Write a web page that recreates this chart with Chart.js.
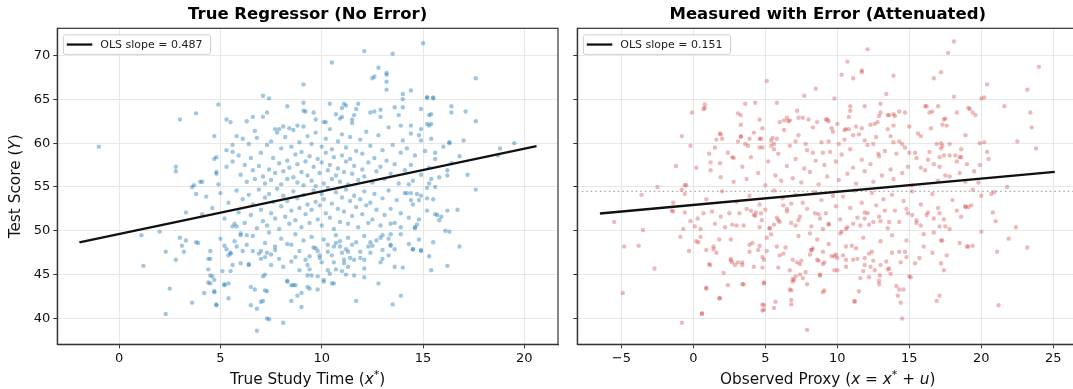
<!DOCTYPE html>
<html>
<head>
<meta charset="utf-8">
<script src="https://cdn.jsdelivr.net/npm/chart.js@4.4.0/dist/chart.umd.min.js"></script>
<style>
  html, body { margin:0; padding:0; background:#fff; overflow:hidden; width:1073px; height:389px; }
  canvas { position:absolute; top:0; }
  #trueChart { left:0; }
  #proxyChart { left:566px; }
</style>
</head>
<body>
<canvas id="trueChart" width="566" height="389"></canvas>
<canvas id="proxyChart" width="524" height="389"></canvas>
<script>
// ---- data ----
const scoreRange = [37.05, 73.1];
const scoreTicks = [40, 45, 50, 55, 60, 65, 70];
const trueXRange = [-3.05, 21.66];
const trueXTicks = [0, 5, 10, 15, 20];
const proxyXRange = [-8.06, 26.73];
const proxyXTicks = [-5, 0, 5, 10, 15, 20, 25];

const trueFit = [[-1.96, 48.67], [20.6, 59.65]];
const proxyFit = [[-6.49, 51.97], [25.1, 56.72]];
const meanScore = 54.5;
const trueSlope = '0.487';
const proxySlope = '0.151';

// true study time vs score: sparse outer points
const trueOuter = [
  [-1.0,59.6],[1.1,49.5],[1.2,46.0],[2.0,49.9],[2.3,47.6],[2.3,40.5],[2.5,43.4],[2.8,57.3],[2.8,56.8],[2.8,46.7],
  [3.0,62.7],[3.0,49.2],[3.1,48.3],[3.2,47.6],[3.3,48.9],[3.3,52.1],[3.6,41.8],[3.8,63.4],[3.8,48.7],[3.8,54.2],
  [3.6,55.0],[4.0,55.6],[4.2,42.9],[4.1,51.9],[4.3,53.9],[4.5,47.7],[4.5,46.8],[4.6,44.8],[4.7,60.8],[4.8,41.5],
  [4.7,58.2],[4.8,56.5],[4.4,45.6],[4.9,64.4],
  [15.0,71.4],[12.1,70.5],[13.5,70.2],[10.5,69.2],[12.8,68.6],[12.5,67.4],[12.6,67.6],[13.2,68.0],[13.2,67.8],[13.2,67.0],
  [13.2,66.1],[9.1,66.7],[7.1,65.4],[7.4,65.1],[14.0,65.6],[14.0,65.0],[14.4,66.0],[15.2,65.2],[15.5,65.1],[10.4,64.5],
  [11.1,64.5],[11.2,64.3],[11.0,64.0],[9.1,64.6],[8.3,64.2],[11.8,64.5],[11.7,63.9],[13.6,64.1],[14.0,64.1],[14.9,63.9],
  [15.4,63.3],[15.2,62.2],[15.3,62.0],[5.3,62.7],[5.5,62.4],[6.3,62.5],[6.6,63.0],[7.1,63.0],[7.3,63.5],[6.7,61.4],
  [6.1,60.5],[5.8,60.8],[5.6,59.8],[5.6,59.0],[4.8,58.4],[4.8,56.7],[5.3,57.3],[3.7,55.2],[4.1,55.6],[4.9,55.3],
  [7.7,61.6],[7.9,61.6],[8.1,61.9],[8.4,61.7],[8.8,62.0],[9.1,63.7],[9.2,63.6],[9.6,63.5],[9.7,62.7],[10.1,62.4],
  [10.2,62.4],[10.7,63.3],[10.9,62.8],[11.0,63.0],[11.6,63.2],[11.5,62.7],[12.4,63.5],[12.6,63.6],[12.9,63.8],[12.9,63.0],
  [13.8,63.2],[13.9,62.0],[14.4,62.0],[14.9,61.6],[14.4,61.1],[15.4,60.5],[16.3,60.1],
  [17.6,67.4],[16.4,64.2],[16.4,63.5],[17.1,63.6],[17.6,62.5],[17.0,60.3],[16.3,60.0],[18.8,59.4],[18.7,58.6],[19.5,60.0],
  [16.2,56.3],[16.2,56.9],[17.6,54.7],[16.7,52.4],[16.2,52.3],[15.8,51.2],[16.1,50.0],[15.6,51.9],[16.8,48.2],[16.2,46.0],
  [15.4,45.5],[15.5,48.7],[14.9,47.8],[14.5,47.9],[13.9,42.6],[13.5,41.6],[14.0,45.8],[13.6,45.9],[15.5,65.2],[15.2,65.2],
  [15.3,63.2],[15.4,62.2],[15.6,58.9],[14.9,60.3],[15.2,54.9],[15.2,53.7],[15.3,55.4],[15.4,55.9],[15.6,55.0],[14.7,54.2],
  [14.8,53.5],[14.3,55.3],[14.4,54.3],[14.6,50.4],[13.9,50.4],[13.4,50.8],[13.4,48.4],[13.3,47.2],[12.9,46.4],[13.0,47.8],
  [12.3,48.2],[12.1,46.7],[12.1,44.7],[11.6,44.9],[11.7,42.0],[11.3,45.9],[11.4,46.9],[11.0,47.5],[11.1,46.7],[10.6,44.0],
  [10.1,44.4],[10.4,45.1],[9.9,47.2],[9.5,44.9],[9.4,43.4],[9.0,41.3],[9.0,42.9],[8.7,43.8],[8.5,43.8],[8.8,42.6],
  [8.3,44.3],[8.1,39.5],[8.5,42.0],[8.1,45.9],[7.4,39.9],[6.8,38.6],[6.8,41.1],[6.7,43.3],[7.2,43.2],[7.1,42.0],
  [6.5,41.5],[7.2,45.0],[7.3,47.5],[7.5,47.3],[6.5,43.6],[6.4,46.1],[6.0,46.3],[6.1,47.7],[5.4,47.2],[5.5,47.5],
  [5.6,46.1],[5.4,44.0],[5.4,42.3],[5.2,43.8],[5.1,45.4],[4.7,44.4],[4.5,44.9],[4.7,43.1],[4.8,41.6],[4.4,44.1]
];
// true study time vs score: lower middle
const trueLower = [
  [3.9,48.6],[4.4,46.8],[4.5,44.0],[4.7,43.0],[5.0,49.1],[5.2,48.3],[5.5,45.4],[5.5,47.4],[5.2,43.9],[6.4,46.2],
  [6.6,47.7],[7.0,41.9],[7.1,44.8],[7.3,43.1],[7.3,40.0],[8.3,44.2],[8.6,43.8],[9.3,43.6],[9.8,43.3],[9.8,44.8],
  [10.1,44.2],[9.3,44.9],[9.4,45.6],[10.5,44.0],[10.7,45.6],[11.0,45.4],[11.2,45.0],[12.8,44.0],[14.5,47.9],[14.9,47.7],
  [16.3,49.9],[15.7,51.8],[14.8,51.3],[14.6,50.3],[14.4,53.5],[14.2,54.3],[13.4,48.3],[13.4,49.6],[13.0,49.5],[12.9,49.2],
  [12.5,48.3],[12.4,48.7],[12.1,45.7],[11.9,47.6],[11.6,46.7],[11.5,48.4],[11.2,47.9],[11.3,47.6],[10.9,48.2],[10.7,48.6],
  [10.6,48.2],[10.6,46.4],[10.3,45.5],[10.3,47.6],[10.0,46.4],[9.8,47.7],[9.6,48.1],[9.4,47.1],[9.2,46.7],[8.9,45.5],
  [8.7,47.0],[8.5,48.4],[8.3,48.5],[7.9,46.8],[7.7,48.2],[7.5,46.1],[7.2,47.0],[7.0,46.8],[7.0,47.7],[6.3,48.4],
  [6.3,49.5],[6.0,49.5],[5.8,50.5],[5.7,50.8],[5.8,48.2],
  [5.3,47.9],[5.7,48.8],[6.0,49.7],[6.6,49.4],[6.9,47.4],[7.2,48.6],[7.4,49.8],[7.7,47.8],[8.0,49.1],[8.5,46.5],
  [8.7,49.6],[8.9,47.7],[9.1,48.9],[9.3,46.1],[9.5,49.3],[9.7,48.0],[9.9,46.9],[10.1,49.0],[10.3,48.4],[10.5,47.2],
  [10.7,49.5],[10.9,48.8],[11.1,46.3],[11.3,49.2],[11.7,48.7],[11.9,46.9],[12.1,49.4],[12.4,47.5],[12.7,48.9],[13.0,46.8],
  [13.3,49.1],[13.6,47.9],[13.9,49.6],[14.3,48.5],[14.8,49.0],[15.3,47.1]
];
// true study time vs score: dense core
const trueCore = [
  [5.3,59.2],[5.6,57.9],[5.9,58.6],[6.0,56.4],[6.2,57.5],[6.3,55.6],[6.4,59.9],[6.5,58.3],[6.6,56.9],[6.7,55.9],
  [6.8,60.6],[6.9,57.4],[7.0,58.9],[7.1,56.2],[7.2,55.4],[7.3,59.8],[7.4,57.0],[7.5,60.2],[7.5,55.8],[7.6,58.3],
  [7.7,56.6],[7.8,61.2],[7.9,57.7],[8.0,55.3],[8.0,59.4],[8.1,56.8],[8.2,60.7],[8.3,58.0],[8.3,55.9],[8.4,57.2],
  [8.5,59.6],[8.6,56.1],[8.6,61.5],[8.7,58.7],[8.8,55.5],[8.8,57.6],[8.9,60.1],[9.0,56.7],[9.0,59.0],[9.1,55.2],
  [9.1,61.9],[9.2,57.9],[9.3,60.8],[9.3,56.3],[9.4,58.5],[9.5,55.7],[9.5,59.9],[9.6,57.3],[9.7,61.2],[9.7,55.1],
  [9.8,58.2],[9.9,56.6],[10.0,59.6],[10.0,57.8],[10.1,55.4],[10.2,60.5],[10.2,58.9],[10.3,56.9],[10.4,61.6],[10.4,57.5],
  [10.5,55.9],[10.5,59.3],[10.6,58.4],[10.7,56.3],[10.8,60.2],[10.8,57.1],[10.9,55.6],[11.0,58.6],[11.0,61.0],[11.1,56.7],
  [11.2,59.5],[11.2,57.9],[11.3,55.3],[11.4,60.7],[11.4,58.2],[11.5,56.5],[11.5,62.3],[11.6,57.4],[11.7,59.1],[11.8,55.8],
  [11.9,60.4],[12.0,57.0],[12.0,58.8],[12.1,56.2],[12.2,61.3],[12.3,57.8],[12.4,59.7],[12.5,55.5],[12.6,58.3],[12.7,56.8],
  [12.8,60.9],[12.9,57.3],[13.0,59.2],[13.1,55.9],[13.2,58.0],[13.3,61.8],[13.4,56.5],[13.5,59.8],[13.6,57.6],[13.8,55.4],
  [13.9,58.9],[14.0,60.3],[14.1,56.9],[14.2,59.4],[14.4,57.5],[14.5,55.7],[14.6,58.6],[14.8,60.9],[14.9,56.4],[15.1,59.1],
  [15.3,57.2],[15.6,58.2],[15.8,56.1],[16.0,59.6],[16.4,57.7],[16.8,58.5],[17.2,56.4],
  [4.6,52.6],[5.0,54.3],[5.2,51.4],[5.4,53.2],[5.6,50.5],[5.8,54.6],[5.9,52.1],[6.1,53.6],[6.2,50.9],[6.4,54.1],
  [6.5,51.8],[6.6,53.0],[6.8,50.3],[6.9,54.7],[7.0,52.4],[7.1,51.1],[7.2,53.8],[7.3,50.6],[7.4,54.2],[7.5,52.0],
  [7.6,53.3],[7.7,51.4],[7.8,54.8],[7.9,50.2],[8.0,52.8],[8.1,54.0],[8.2,51.6],[8.3,53.4],[8.4,50.8],[8.5,52.3],
  [8.6,54.5],[8.7,51.2],[8.8,53.7],[8.9,52.6],[9.0,50.4],[9.1,54.1],[9.2,51.9],[9.3,53.0],[9.4,50.9],[9.5,52.4],
  [9.6,54.6],[9.7,53.3],[9.8,51.3],[9.9,52.9],[10.0,54.2],[10.0,50.6],[10.1,53.6],[10.2,52.0],[10.3,54.9],[10.4,51.5],
  [10.5,53.1],[10.6,50.2],[10.7,54.4],[10.8,52.5],[10.9,51.0],[11.0,53.8],[11.1,52.2],[11.2,54.7],[11.3,50.8],[11.4,53.4],
  [11.5,51.7],[11.6,54.0],[11.7,52.7],[11.8,50.4],[11.9,53.6],[12.0,51.9],[12.1,54.5],[12.2,52.9],[12.3,50.9],[12.4,53.2],
  [12.5,51.3],[12.6,54.2],[12.7,52.4],[12.9,50.6],[13.0,53.7],[13.1,51.8],[13.3,54.6],[13.4,52.5],[13.6,50.9],[13.7,53.5],
  [13.9,52.0],[14.1,54.3],[14.3,51.5],[14.5,53.0],[14.7,50.7],[14.9,54.0],[15.2,52.3],[15.5,53.6],[15.9,51.6]
];

// observed proxy vs score: sparse outer points
const proxyOuter = [
  [18.1,71.6],[17.7,70.3],[12.1,70.7],[10.7,69.3],[24.0,68.7],[11.7,68.3],[11.1,67.4],[10.3,67.8],[13.9,67.7],[17.2,68.1],
  [16.7,67.4],[5.1,67.1],[8.5,66.2],[20.4,66.7],[23.2,66.1],[13.4,65.6],[7.7,65.4],[9.8,65.1],[18.1,65.3],[20.0,65.1],
  [20.2,65.2],[23.4,63.5],[23.5,61.8],[21.6,64.2],[18.3,63.5],[19.4,63.5],[19.6,63.2],[19.1,64.0],[17.3,62.1],[17.5,62.8],
  [16.6,63.6],[16.1,64.2],[16.4,63.5],[14.7,63.5],[13.9,63.3],[14.0,63.1],[13.6,63.2],[12.9,63.1],[12.8,62.4],[11.9,64.2],
  [0.8,64.0],[0.8,64.4],[-0.1,63.5],[3.6,64.5],[3.1,63.4],[3.3,63.2],[4.3,64.6],[5.8,64.6],[7.2,63.7],[6.5,62.9],
  [6.3,62.6],[6.6,62.5],[7.3,62.9],[-0.8,60.8],[-0.2,59.7],[1.9,61.0],[2.0,60.5],[3.3,60.7],[3.9,60.5],[3.8,59.7],
  [4.8,61.7],[4.6,60.5],[5.4,60.3],[5.8,60.5],[5.6,59.9],[22.5,60.2],[23.8,59.4],[23.2,48.1],[22.4,50.4],[21.9,49.1],
  [21.0,51.1],[21.1,47.6],[21.2,41.5],[21.8,55.0],[20.7,54.2],[20.9,54.4],[20.4,59.0],[20.5,58.2],[19.9,60.0],[20.2,60.1],
  [19.9,57.5],[19.4,54.7],[19.1,52.7],[18.9,52.8],[19.0,48.2],[19.4,48.3],[20.0,49.9],[18.5,58.4],[18.2,58.6],[18.6,59.3],
  [17.8,58.6],[17.2,60.0],[17.3,59.7],[17.1,58.4],[17.1,52.0],[17.4,51.3],[17.1,50.5],[17.3,48.9],[17.4,45.5],[17.2,46.3],
  [17.1,42.6],[16.9,42.0],[16.6,47.5],[16.0,49.6],[15.0,44.8],[15.1,44.7],[14.7,47.6],[14.3,43.3],[14.4,41.8],[14.5,40.0],
  [14.1,43.7],[13.6,45.7],[13.7,45.1],[13.0,46.1],[12.5,46.6],[11.5,43.1],[11.2,41.9],[12.2,44.7],[11.6,44.6],[11.8,45.4],
  [10.6,46.7],[10.0,45.5],[9.9,47.3],[9.1,43.2],[8.8,45.0],[8.6,46.7],[8.2,47.8],[7.4,46.2],[7.1,44.8],[7.0,44.4],
  [6.8,43.2],[6.8,42.1],[6.8,41.6],[5.7,41.9],[4.8,41.6],[4.8,40.9],[4.9,44.1],[4.8,45.8],[4.2,45.9],[3.5,43.9],
  [2.4,43.8],[1.8,42.3],[0.9,43.5],[0.6,40.5],[-0.8,39.5],[7.9,38.7],[1.1,46.2],[0.9,47.8],[0.2,48.8],[-0.3,47.7],
  [-0.9,49.3],[2.6,46.8],[2.7,46.4],[3.1,46.4],[1.8,49.0],[1.4,47.9],[-2.7,45.7],[-3.8,48.3],[-4.8,48.2],[-4.9,42.9],
  [-3.5,50.1],[-5.5,51.0],[-3.6,54.1],[-2.5,55.0],[-1.2,57.4],[-1.4,53.2],[-0.8,54.7],[-0.6,55.2],[-0.6,52.1],[-0.2,51.1],
  [0.1,50.5],[-1.4,52.2]
];
// observed proxy vs score: upper middle
const proxyUpper = [
  [11.7,68.1],[13.0,64.5],[10.9,64.2],[0.7,63.9],[4.6,62.7],[6.7,62.6],[8.0,62.7],[8.6,62.4],[9.3,62.7],[9.4,62.5],
  [9.6,61.7],[10.0,62.2],[10.9,63.7],[10.6,61.6],[11.3,61.9],[11.7,61.7],[12.3,62.1],[13.0,63.5],[13.5,63.2],[14.3,63.6],
  [13.9,62.0],[15.6,61.1],[16.2,64.2],[17.0,64.2],[16.5,61.7],[17.4,62.7],[17.6,62.0],[19.2,63.9],[18.9,60.9],[17.8,59.9],
  [17.2,59.4],[18.6,58.4],[16.9,59.9],[1.85,61.1],[1.5,59.5],[1.1,58.8],[1.85,57.7],[1.2,56.9],[0.2,57.2],[-0.5,55.2],
  [2.7,58.4],[2.8,58.3],[3.3,60.8],[3.6,59.9],[4.6,59.5],[5.4,59.7],[5.6,59.3],[4.7,60.5],[7.1,60.2],[7.8,59.9],
  [8.3,58.9],[9.0,58.9],[9.4,60.2],[10.1,59.9],[10.5,61.5],[10.8,61.6],[11.1,60.9],[11.9,60.3],[12.5,59.9],[12.85,58.8],
  [13.7,60.8],[13.9,60.1],[14.5,59.9],[15.0,58.9],[15.4,58.9],[15.8,57.2],[16.3,58.1],[17.1,57.3],[17.5,56.3],[18.5,56.6],
  [19.0,57.6],[19.8,55.5],
  [1.2,57.8],[1.9,56.1],[2.4,58.9],[2.8,55.6],[3.1,60.2],[3.4,57.3],[3.7,55.9],[4.0,58.4],[4.2,61.2],[4.5,56.6],
  [4.8,59.5],[5.0,55.2],[5.2,57.9],[5.5,60.6],[5.7,56.3],[5.9,58.8],[6.1,55.7],[6.3,61.5],[6.5,57.4],[6.7,59.7],
  [6.9,56.0],[7.1,58.2],[7.3,60.9],[7.5,55.5],[7.7,57.1],[7.9,59.2],[8.1,56.7],[8.3,61.8],[8.5,58.0],[8.7,55.3],
  [8.9,60.1],[9.1,57.5],[9.3,56.2],[9.5,59.0],[9.7,61.3],[9.9,57.9],[10.1,55.8],[10.3,58.7],[10.5,60.4],[10.7,56.5],
  [10.9,59.3],[11.1,57.2],[11.3,55.4],[11.5,61.0],[11.7,58.1],[11.9,56.8],[12.1,59.8],[12.3,57.6],[12.5,55.6],[12.7,60.7],
  [12.9,58.5],[13.1,56.3],[13.3,59.1],[13.5,61.6],[13.7,57.0],[13.9,55.9],[14.1,58.8],[14.3,60.2],[14.5,56.6],[14.7,59.5],
  [14.9,57.3],[15.2,55.2],[15.5,58.3],[15.8,60.8],[16.1,56.9],[16.4,59.0],[16.7,57.6],[17.0,55.7],[17.4,58.6],[17.8,56.2],
  [18.3,57.9],[18.9,55.6],[19.5,56.8],[1.6,60.4],[3.3,62.1],[6.0,62.4],[9.2,62.7],[12.6,62.2],[15.0,61.9],[7.6,62.9],
  [10.8,63.0]
];
// observed proxy vs score: lower middle
const proxyLower = [
  [0.6,40.6],[0.9,43.4],[1.85,42.3],[3.4,43.9],[4.9,41.5],[4.9,41.0],[5.6,41.2],[4.9,44.0],[6.7,43.3],[9.0,43.0],
  [7.9,43.9],[7.4,45.0],[6.9,44.2],[8.8,44.9],[9.8,45.5],[11.2,42.0],[12.9,43.9],[13.5,45.6],[14.2,42.6],[14.6,43.3],
  [15.7,46.9],[14.4,46.4],[14.8,47.0],[13.8,47.5],[12.96,44.9],[12.3,45.9],[11.9,46.1],[12.4,47.6],[11.9,46.9],[11.1,46.7],
  [11.3,48.0],[10.6,48.2],[10.4,47.2],[10.0,46.9],[9.6,47.1],[9.1,46.4],[8.7,46.6],[9.0,47.6],[8.1,47.3],[7.5,46.6],
  [7.2,46.4],[6.7,45.5],[6.9,44.5],[6.0,47.2],[6.25,47.4],[5.8,48.2],[5.1,47.7],[4.9,46.7],[4.5,47.8],[4.6,48.3],
  [3.9,48.4],[3.4,46.1],[2.9,46.1],[2.6,46.6],[1.4,48.2],[0.35,48.7],[1.16,46.1],[3.9,47.6],
  [0.5,49.3],[1.6,47.5],[2.6,49.0],[3.4,46.4],[4.1,48.6],[4.8,47.0],[5.4,49.6],[5.9,45.8],[6.4,48.1],[6.9,46.7],
  [7.3,49.4],[7.8,45.3],[8.2,47.8],[8.6,49.0],[9.0,46.2],[9.4,48.5],[9.8,47.1],[10.2,49.7],[10.6,45.9],[11.0,48.3],
  [11.4,46.8],[11.8,49.2],[12.2,47.4],[12.6,45.5],[13.0,48.8],[13.4,46.5],[13.8,49.5],[14.3,47.6],[14.8,48.9],[15.4,46.3],
  [16.0,48.2],[16.7,49.8],[17.6,47.2],[18.5,48.6],[2.1,45.2],[7.6,44.6],[12.9,44.3],
  [-0.7,50.2],[0.5,50.2],[0.7,52.0],[1.3,52.2],[1.9,51.6],[2.2,50.4],[2.7,50.7],[3.0,50.6],[3.2,52.0],[3.7,52.5],
  [4.0,52.3],[4.2,51.8],[4.35,52.1],[4.7,52.0],[4.75,51.2],[4.6,50.4],[5.1,49.2],[5.3,50.3],[5.6,50.7],[5.8,51.5],
  [6.0,51.0],[6.25,52.9],[6.5,52.5],[6.8,53.1],[7.1,50.6],[7.3,51.2],[8.1,49.7],[8.3,48.0],[8.45,52.0],[8.8,51.4],
  [9.0,50.2],[9.4,50.7],[10.3,49.9],[10.6,50.2],[11.1,50.8],[11.6,50.6],[11.9,51.4],[12.1,52.0],[12.5,51.0],[12.9,51.6],
  [13.3,52.3],[13.6,51.0],[14.8,52.5],[15.2,51.8],[15.5,51.2],[15.8,50.6],[16.3,52.1],[16.7,51.4],[17.2,48.9],[17.8,50.2],
  [18.3,52.3],[18.9,52.7],[19.1,48.2],
  [-1.5,52.3],[-0.6,54.2],[0.3,51.4],[0.9,53.6],[1.5,50.8],[2.0,54.5],[2.5,52.0],[3.0,53.3],[3.5,50.6],[3.9,54.0],
  [4.3,51.7],[4.6,53.0],[5.0,52.4],[5.3,50.3],[5.6,54.6],[5.9,51.2],[6.2,53.7],[6.5,52.2],[6.8,50.9],[7.1,54.1],
  [7.4,51.6],[7.6,53.2],[7.9,52.5],[8.2,50.5],[8.4,54.4],[8.7,51.9],[8.9,53.5],[9.2,52.0],[9.4,50.8],[9.7,54.0],
  [9.9,52.8],[10.2,51.3],[10.4,53.9],[10.7,50.4],[10.9,52.6],[11.2,54.6],[11.4,51.5],[11.7,53.2],[11.9,52.1],[12.2,50.7],
  [12.4,54.3],[12.7,52.9],[13.0,51.1],[13.2,53.6],[13.5,50.3],[13.8,54.1],[14.0,52.3],[14.3,51.0],[14.6,53.4],[14.9,52.0],
  [15.2,54.5],[15.5,50.9],[15.8,53.0],[16.2,51.8],[16.6,54.2],[17.0,52.6],[17.5,50.5],[18.0,53.5],[18.6,51.6],[19.3,52.9],
  [20.0,54.0],[20.8,52.1]
];

const FONT = "'DejaVu Sans', sans-serif";
const fmt = v => (v < 0 ? '\u2212' + Math.abs(v) : String(v));
const toXY = arr => arr.map(p => ({ x: p[0], y: p[1] }));

// text with italic / superscript pieces (matplotlib mathtext look)
function partFont(p, size){
  if (p[1] === 's') return Math.round(size * 0.7) + 'px ' + FONT;
  return (p[1] === 'i' ? 'italic ' : '') + size + 'px ' + FONT;
}
function drawParts(ctx, parts, cx, cy, size, rotate){
  ctx.save();
  ctx.translate(cx, cy);
  if (rotate) ctx.rotate(-Math.PI / 2);
  let total = 0;
  const widths = parts.map(p => { ctx.font = partFont(p, size); const w = ctx.measureText(p[0]).width; total += w; return w; });
  let x = -total / 2;
  ctx.fillStyle = '#111';
  ctx.textBaseline = 'middle';
  ctx.textAlign = 'left';
  parts.forEach((p, i) => {
    ctx.font = partFont(p, size);
    ctx.fillText(p[0], x, p[1] === 's' ? -size * 0.38 : 0);
    x += widths[i];
  });
  ctx.restore();
}

function makeDecor(o){
  return {
    id: 'decor',
    afterDraw(chart){
      const { ctx, chartArea: a } = chart;
      ctx.save();
      // spines all round
      ctx.strokeStyle = '#333';
      ctx.lineWidth = 1.2;
      ctx.strokeRect(a.left, a.top, a.right - a.left, a.bottom - a.top);
      // legend box
      ctx.font = '11px ' + FONT;
      const tw = ctx.measureText(o.legend).width;
      const bx = a.left + 6, by = a.top + 6.5, bw = tw + 45, bh = 19.5;
      ctx.beginPath();
      ctx.roundRect(bx, by, bw, bh, 2.5);
      ctx.fillStyle = 'rgba(255,255,255,0.85)';
      ctx.fill();
      ctx.strokeStyle = '#d0d0d0';
      ctx.lineWidth = 1;
      ctx.stroke();
      ctx.beginPath();
      ctx.moveTo(bx + 3.5, by + bh / 2);
      ctx.lineTo(bx + 29, by + bh / 2);
      ctx.strokeStyle = '#111';
      ctx.lineWidth = 2.3;
      ctx.stroke();
      ctx.fillStyle = '#222';
      ctx.textBaseline = 'middle';
      ctx.textAlign = 'left';
      ctx.fillText(o.legend, bx + 37, by + bh / 2 + 0.5);
      // axis titles
      drawParts(ctx, o.xLabel, (a.left + a.right) / 2, 380.5, 15.3, false);
      if (o.yLabel) drawParts(ctx, o.yLabel, 16, (a.top + a.bottom) / 2, 15.3, true);
      ctx.restore();
    }
  };
}

function panel(id, o){
  const datasets = [
    { data: toXY(o.fit), showLine: true, borderColor: '#111', borderWidth: 2.4, pointRadius: 0, order: 0 },
    { data: toXY(o.points), backgroundColor: o.color, borderWidth: 0, pointRadius: 2.2, order: 1 }
  ];
  if (o.ref !== undefined) {
    datasets.push({ data: toXY([[o.xRange[0], o.ref], [o.xRange[1], o.ref]]), showLine: true,
      borderColor: 'rgba(150,150,150,0.85)', borderDash: [1.5, 3], borderWidth: 1.2, pointRadius: 0, order: 2 });
  }
  return new Chart(document.getElementById(id), {
    type: 'scatter',
    data: { datasets },
    options: {
      responsive: false, animation: false, events: [],
      layout: { padding: { left: 0, right: o.padR, top: 0, bottom: 0 } },
      plugins: {
        legend: { display: false },
        tooltip: { enabled: false },
        title: { display: true, text: o.title, fullSize: false, color: '#000',
          font: { family: FONT, size: 16.5, weight: 'bold' }, padding: { top: 5.1, bottom: 3.4 } }
      },
      scales: {
        x: {
          type: 'linear', min: o.xRange[0], max: o.xRange[1],
          afterBuildTicks: s => { s.ticks = o.xTicks.map(v => ({ value: v })); },
          afterFit: s => { s.height = 44.7; },
          grid: { color: '#e8e8e8', tickColor: '#333', tickLength: 4, lineWidth: 1 },
          border: { color: '#333', width: 1.2 },
          ticks: { color: '#111', font: { family: FONT, size: 13 }, padding: 3, maxRotation: 0, callback: v => fmt(v) }
        },
        y: {
          type: 'linear', min: scoreRange[0], max: scoreRange[1],
          afterBuildTicks: s => { s.ticks = scoreTicks.map(v => ({ value: v })); },
          afterFit: s => { s.width = o.yWidth; },
          grid: { color: '#e8e8e8', tickColor: '#333', tickLength: 4, lineWidth: 1 },
          border: { color: '#333', width: 1.2 },
          ticks: { color: '#111', font: { family: FONT, size: 13 }, padding: 3,
            callback: v => (o.yLabel ? fmt(v) : '') }
        }
      }
    },
    plugins: [makeDecor(o)]
  });
}

panel('trueChart', {
  title: 'True Regressor (No Error)',
  points: trueOuter.concat(trueLower, trueCore),
  color: 'rgba(31,119,180,0.42)',
  fit: trueFit,
  xRange: trueXRange, xTicks: trueXTicks,
  yWidth: 57.3, padR: 8,
  legend: 'OLS slope = ' + trueSlope,
  xLabel: [['True Study Time (', ''], ['x', 'i'], ['*', 's'], [')', '']],
  yLabel: [['Test Score (', ''], ['Y', 'i'], [')', '']]
});

panel('proxyChart', {
  title: 'Measured with Error (Attenuated)',
  points: proxyOuter.concat(proxyUpper, proxyLower),
  color: 'rgba(205,62,62,0.36)',
  fit: proxyFit,
  ref: meanScore,
  xRange: proxyXRange, xTicks: proxyXTicks,
  yWidth: 11.3, padR: 11.8,
  legend: 'OLS slope = ' + proxySlope,
  xLabel: [['Observed Proxy (', ''], ['x', 'i'], [' = ', ''], ['x', 'i'], ['*', 's'], [' + ', ''], ['u', 'i'], [')', '']],
  yLabel: null
});
</script>
</body>
</html>
